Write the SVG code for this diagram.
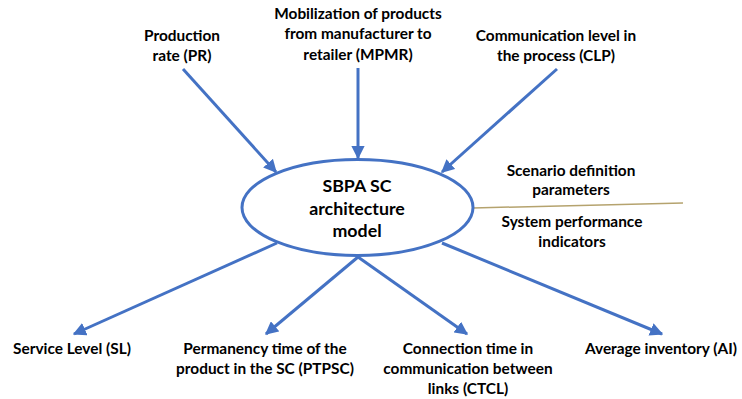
<svg xmlns="http://www.w3.org/2000/svg" width="742" height="399" viewBox="0 0 742 399">
<style>
text{font-family:Lato,"Open Sans","Liberation Sans",sans-serif;font-weight:bold;fill:#000;text-anchor:middle;font-size:15.4px}
.c{font-size:17.8px}
.ln{stroke:#4472C4;stroke-width:3;fill:none;marker-end:url(#ah)}
</style>
<defs>
<marker id="ah" viewBox="0 0 10 10" refX="9" refY="5" markerWidth="4.4" markerHeight="4.4" orient="auto" markerUnits="strokeWidth">
<path d="M0,0 L10,5 L0,10 z" fill="#4472C4"/>
</marker>
</defs>
<rect width="742" height="399" fill="#fff"/>
<g id="connectors">
<line class="ln" x1="183" y1="69" x2="276" y2="172"/>
<line class="ln" x1="358" y1="68" x2="358" y2="158"/>
<line class="ln" x1="557" y1="69" x2="442" y2="172"/>
<line class="ln" x1="277" y1="243" x2="74" y2="334"/>
<line class="ln" x1="358" y1="257" x2="266" y2="334"/>
<line class="ln" x1="358" y1="257" x2="467" y2="334"/>
<line class="ln" x1="442" y1="243" x2="662" y2="334"/>
<line x1="473" y1="208" x2="683" y2="203" stroke="#B5A36E" stroke-width="1.5"/>
</g>
<g id="center">
<ellipse cx="357.5" cy="207.5" rx="115.5" ry="48" fill="#fff" stroke="#4472C4" stroke-width="3"/>
<text class="c" x="357" y="192">SBPA SC</text>
<text class="c" x="357" y="215">architecture</text>
<text class="c" x="357" y="237">model</text>
</g>
<g id="pr"><text x="182" y="41">Production</text><text x="182" y="61">rate (PR)</text></g>
<g id="mpmr"><text x="358" y="19">Mobilization of products</text><text x="358" y="39">from manufacturer to</text><text x="358" y="60">retailer (MPMR)</text></g>
<g id="clp"><text x="556" y="41">Communication level in</text><text x="556" y="61">the process (CLP)</text></g>
<g id="sdp"><text x="571" y="176">Scenario definition</text><text x="571" y="195">parameters</text></g>
<g id="spi"><text x="572" y="227">System performance</text><text x="572" y="247">indicators</text></g>
<g id="sl"><text x="72" y="354">Service Level (SL)</text></g>
<g id="ptpsc"><text x="265" y="354">Permanency time of the</text><text x="265" y="374">product in the SC (PTPSC)</text></g>
<g id="ctcl"><text x="468" y="354">Connection time in</text><text x="468" y="374">communication between</text><text x="468" y="394">links (CTCL)</text></g>
<g id="ai"><text x="661" y="354">Average inventory (AI)</text></g>
</svg>
